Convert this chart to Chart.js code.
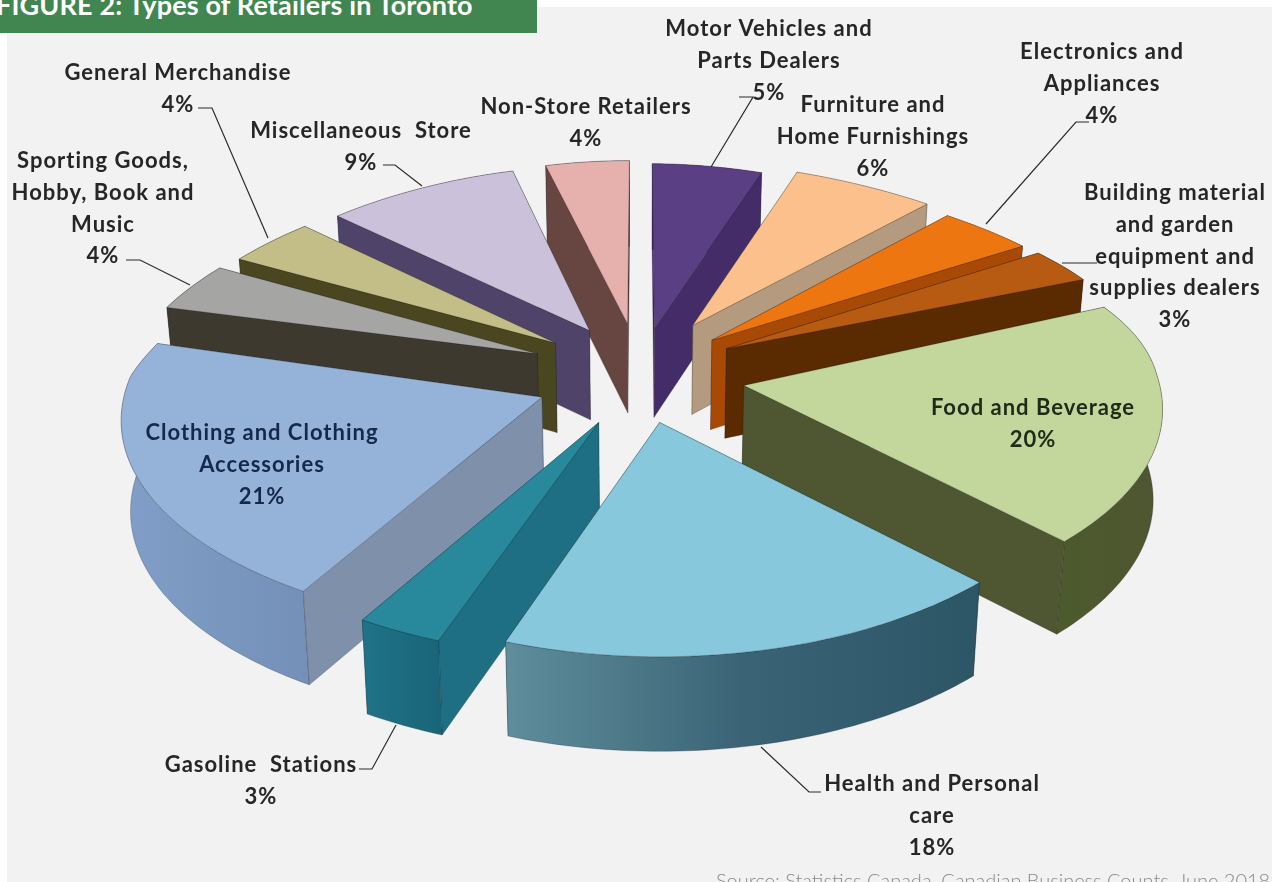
<!DOCTYPE html>
<html>
<head>
<meta charset="utf-8">
<title>Types of Retailers in Toronto</title>
<style>
  html, body { margin: 0; padding: 0; background: #fff; overflow: hidden; }
  #stage { position: relative; width: 1279px; height: 882px; overflow: hidden; }
  #panel { position: absolute; left: 7px; top: 7px; width: 1265px; height: 880px; background: #f2f2f2; }
  #banner { position: absolute; left: 0; top: 0; width: 537px; height: 33px; background: #418650; overflow: hidden; }
  #banner span { position: absolute; left: -4px; top: -10px; white-space: nowrap; color: #fff;
                 font: 700 27px Lato, sans-serif; letter-spacing: 0.15px; line-height: 30px; }
  #source { position: absolute; left: 716px; top: 868px; white-space: nowrap; color: #8a8a8a;
            font: 300 20px Lato, sans-serif; line-height: 24px; }
  canvas { position: absolute; left: 0; top: 0; }
</style>
</head>
<body>
<div id="stage">
  <div id="panel"></div>
  <canvas id="pie" width="1279" height="882"></canvas>
  <div id="banner"><span>FIGURE 2: Types of Retailers in Toronto</span></div>
  <div id="source">Source: Statistics Canada, Canadian Business Counts, June 2018</div>
</div>
<script src="https://cdn.jsdelivr.net/npm/chart.js@4/dist/chart.umd.min.js"></script>
<script>
// Retail categories, clockwise from twelve o'clock
const categories = [
  'Motor Vehicles and Parts Dealers', 'Furniture and Home Furnishings', 'Electronics and Appliances',
  'Building material and garden equipment and supplies dealers', 'Food and Beverage',
  'Health and Personal care', 'Gasoline Stations', 'Clothing and Clothing Accessories',
  'Sporting Goods, Hobby, Book and Music', 'General Merchandise', 'Miscellaneous Store', 'Non-Store Retailers'
];
const shares = [5, 6, 4, 3, 20, 18, 3, 21, 4, 4, 9, 4];

// Face colours per slice
const topColors = ['#5b3f85', '#fbc08c', '#ee7611', '#b75a12', '#c3d69b', '#88c8dc',
                   '#27899b', '#95b3d9', '#a5a6a4', '#c3bd88', '#ccc1da', '#e6b0ad'];
const wallColors = ['#432c68', '#b49a7e', '#a84a05', '#5a2a00', '#4f5632', '#3c6a7c',
                    '#1f6f84', '#7f90ab', '#3d392f', '#4a4620', '#4f4369', '#674540'];
const rimColors = [['#432c68', '#432c68'], ['#b49a7e', '#b49a7e'], ['#a84a05', '#a84a05'], ['#5a2a00', '#5a2a00'],
                   ['#4c5a2c', '#4f5632'], ['#5f8d9b', '#3a6476', '#2c5566'], ['#1f7388', '#1a6478'], ['#809ec7', '#7490b8'],
                   ['#3d392f', '#3d392f'], ['#4a4620', '#4a4620'], ['#4f4369', '#4f4369'], ['#674540', '#674540']];
const explode = [96, 115, 102, 103, 105, 89, 96, 105, 113, 108, 104, 105];

// Label text, one entry per line
const labelLines = [
  ['Motor Vehicles and', 'Parts Dealers', '5%'],
  ['Furniture and', 'Home Furnishings', '6%'],
  ['Electronics and', 'Appliances', '4%'],
  ['Building material', 'and garden', 'equipment and', 'supplies dealers', '3%'],
  ['Food and Beverage', '20%'],
  ['Health and Personal', 'care', '18%'],
  ['Gasoline  Stations', '3%'],
  ['Clothing and Clothing', 'Accessories', '21%'],
  ['Sporting Goods,', 'Hobby, Book and', 'Music', '4%'],
  ['General Merchandise', '4%'],
  ['Miscellaneous  Store', '9%'],
  ['Non-Store Retailers', '4%']
];
// Centre x and first-line centre y of every label
const labelAnchors = [[769, 29], [873, 105], [1102, 52], [1175, 193], [1033, 408], [932, 784],
                      [261, 765], [262, 433], [103, 161], [178, 73], [361, 131], [586, 107]];
const labelInk = ['#262626', '#262626', '#262626', '#262626', '#1f2a18', '#262626',
                  '#262626', '#14294a', '#262626', '#262626', '#262626', '#262626'];
// Leader lines from labels to slices
const leaders = [
  [[739, 97], [753, 97], [711, 167]],
  [[1089, 122], [1076, 122], [986, 224]],
  [[1097, 263], [1062, 263]],
  [[821, 792], [809, 792], [761, 747]],
  [[359, 769], [372, 769], [396, 725]],
  [[126, 260], [140, 260], [190, 285]],
  [[198, 108], [212, 108], [268, 238]],
  [[383, 165], [395, 165], [422, 186]]
];

// View of the pie plane
const view = { cx: 640, cy: 376, radius: 414, tilt: 0.53, depth: 90,
               backLeftX: 0.18, backY: 0.22, frontX: 0.095, frontY: 0.045,
               sideBackRight: 0.1, sideBackLeft: 0.05, sideFront: 0.04, floorShrink: 0.982 };

// Map a point of the pie plane (x right, y away from the viewer) to the screen; h = 1 is the floor
function project(x, y, h) {
  const v = view, q = y / v.radius, u = x / v.radius;
  const keepX = q > 0 ? (u > 0 ? 0.17 - 0.09 * u : v.backLeftX) : v.frontX;
  const side = q > 0 ? (u > 0 ? v.sideBackRight : v.sideBackLeft) : v.sideFront;
  const sx = 1 / (1 + keepX * q);
  const sy = (1 / (1 + (q > 0 ? v.backY : v.frontY) * q)) * (1 - side * u * u);
  const shrink = h ? v.floorShrink : 1;
  return {
    x: v.cx + x * sx * shrink,
    y: v.cy - v.tilt * y * sy + h * v.depth / (1 + 0.04 * q)
  };
}

function tracePath(ctx, pts) {
  ctx.beginPath();
  pts.forEach((p, i) => i ? ctx.lineTo(p.x, p.y) : ctx.moveTo(p.x, p.y));
  ctx.closePath();
}

function paintFace(ctx, pts, fill) {
  tracePath(ctx, pts);
  ctx.fillStyle = fill;
  ctx.fill();
  ctx.strokeStyle = 'rgba(20,25,30,0.3)';
  ctx.lineWidth = 0.8;
  ctx.stroke();
}

const extrudedPie = {
  id: 'extrudedPie',
  beforeDatasetsDraw(chart) {
    const ctx = chart.ctx;
    const arcs = chart.getDatasetMeta(0).data;
    const R = view.radius;

    const slices = arcs.map((arc, i) => {
      const mid = (arc.startAngle + arc.endAngle) / 2;
      const off = arc.options.offset;
      const tip = { x: off * Math.cos(mid), y: -off * Math.sin(mid) };
      const rim = [];
      const steps = Math.max(4, Math.ceil((arc.endAngle - arc.startAngle) / 0.02));
      for (let s = 0; s <= steps; s++) {
        const a = arc.startAngle + (arc.endAngle - arc.startAngle) * s / steps;
        rim.push({ x: tip.x + R * Math.cos(a), y: tip.y - R * Math.sin(a) });
      }
      return { i, tip, rim, order: tip.y + R * Math.cos(mid + Math.PI / 2) };
    });

    // Far slices first, so nearer ones cover them
    slices.sort((a, b) => b.order - a.order);

    slices.forEach(({ i, tip, rim }) => {
      const first = rim[0], last = rim[rim.length - 1];
      const quad = (a, b) => [project(a.x, a.y, 0), project(b.x, b.y, 0), project(b.x, b.y, 1), project(a.x, a.y, 1)];
      const rimFace = rim.map(p => project(p.x, p.y, 0)).concat(rim.slice().reverse().map(p => project(p.x, p.y, 1)));
      const xs = rimFace.map(p => p.x);
      const grad = ctx.createLinearGradient(Math.min(...xs), 0, Math.max(...xs), 0);
      rimColors[i].forEach((c, k, all) => grad.addColorStop(k / (all.length - 1), c));

      const meanY = pts => pts.reduce((t, p) => t + p.y, 0) / pts.length;
      const walls = [
        { pts: quad(tip, first), fill: wallColors[i], d: (tip.y + first.y) / 2 },
        { pts: quad(tip, last), fill: wallColors[i], d: (tip.y + last.y) / 2 },
        { pts: rimFace, fill: grad, d: meanY(rim) }
      ].sort((a, b) => b.d - a.d);
      walls.forEach(w => paintFace(ctx, w.pts, w.fill));

      const top = [project(tip.x, tip.y, 0)].concat(rim.map(p => project(p.x, p.y, 0)));
      paintFace(ctx, top, chart.data.datasets[0].backgroundColor[i]);
    });

    // Leader lines
    ctx.strokeStyle = '#2b2b2b';
    ctx.lineWidth = 1.2;
    leaders.forEach(line => {
      ctx.beginPath();
      line.forEach(([x, y], k) => k ? ctx.lineTo(x, y) : ctx.moveTo(x, y));
      ctx.stroke();
    });

    // Category labels
    ctx.font = '700 22px Lato, sans-serif';
    ctx.letterSpacing = '1px';
    ctx.textAlign = 'center';
    ctx.textBaseline = 'middle';
    labelLines.forEach((lines, i) => {
      const [x, y] = labelAnchors[i];
      ctx.fillStyle = labelInk[i];
      lines.forEach((t, k) => ctx.fillText(t, x, y + k * 31.8));
    });
    ctx.letterSpacing = '0px';
    return false;
  }
};

new Chart(document.getElementById('pie'), {
  type: 'pie',
  data: {
    labels: categories,
    datasets: [{ data: shares, backgroundColor: topColors, offset: explode, borderWidth: 0 }]
  },
  options: {
    responsive: false,
    animation: false,
    rotation: 0,
    plugins: { legend: { display: false }, tooltip: { enabled: false } }
  },
  plugins: [extrudedPie]
});
</script>
</body>
</html>
